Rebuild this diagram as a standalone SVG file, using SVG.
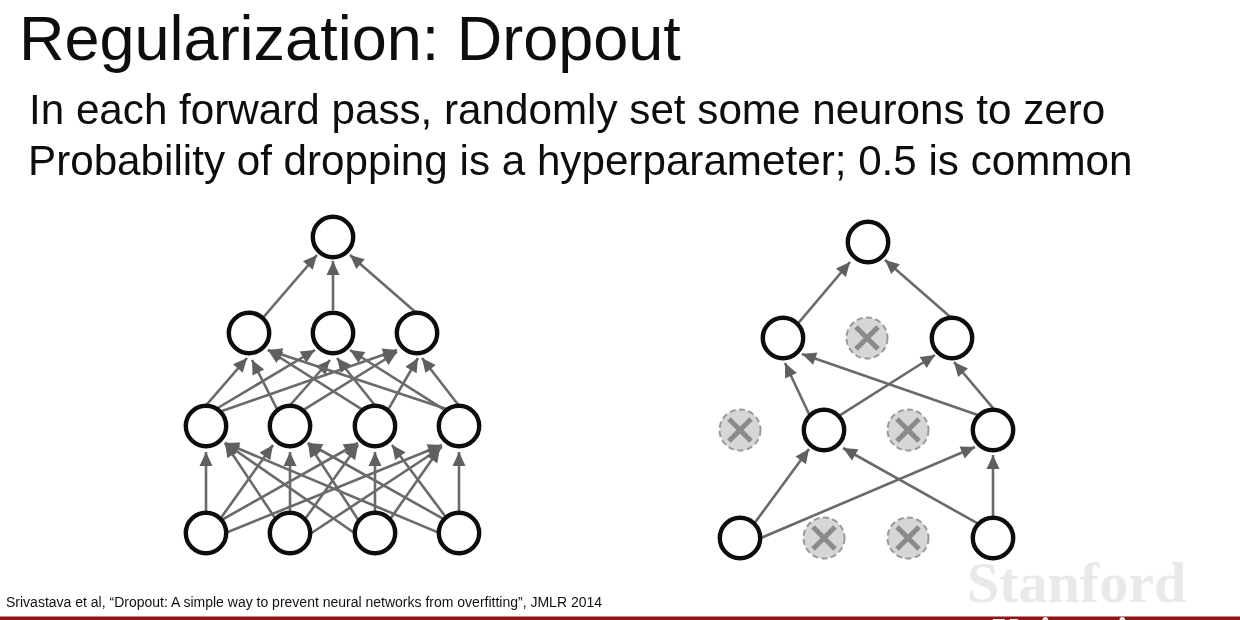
<svg xmlns="http://www.w3.org/2000/svg" width="1240" height="620" viewBox="0 0 1240 620">
<style>
.t{font-family:"Liberation Sans",Arial,sans-serif;fill:#111}
.h{font-size:63px}
.b{font-size:42.2px}
.c{stroke:#6a6a6a;stroke-width:2.6;fill:none;marker-end:url(#a)}
.n{fill:#fff;stroke:#0a0a0a;stroke-width:4.4}
.d{fill:#d6d6d6;stroke:#999;stroke-width:2;stroke-dasharray:6 3.5}
.x{stroke:#8a8a8a;stroke-width:5;fill:none}
.s{font-family:"Liberation Serif",serif;font-weight:bold;fill:#e9e9e9}
</style>
<defs>
<marker id="a" markerUnits="userSpaceOnUse" markerWidth="20" markerHeight="20" refX="0" refY="0" orient="auto" viewBox="-20 -10 20 20"><path d="M0 0L-14 -6.5L-14 6.5Z" fill="#5f5f5f"/></marker>
<path id="k" d="M-11 -11L11 11M11 -11L-11 11"/>
<filter id="b" x="0" y="0" width="100%" height="100%" filterUnits="objectBoundingBox"><feGaussianBlur stdDeviation="0.55"/></filter>
</defs>
<rect width="1240" height="620" fill="#fff"/>
<g filter="url(#b)">
<rect width="1240" height="620" fill="#fff"/>
<text class="t h" x="19" y="60">Regularization: Dropout</text>
<text class="t b" x="29" y="124">In each forward pass, randomly set some neurons to zero</text>
<text class="t b" x="28" y="175">Probability of dropping is a hyperparameter; 0.5 is common</text>
<g id="connectors">
<line class="c" x1="260.5" y1="320.6" x2="317" y2="255"/><line class="c" x1="333" y1="310" x2="333" y2="261"/><line class="c" x1="420.5" y1="316.6" x2="350" y2="255"/>
<line class="c" x1="201.5" y1="410.6" x2="247" y2="358"/><line class="c" x1="214.4" y1="410" x2="315" y2="350"/><line class="c" x1="215.6" y1="413.3" x2="397" y2="350"/>
<line class="c" x1="279.5" y1="414" x2="252" y2="360"/><line class="c" x1="285.4" y1="410.5" x2="330" y2="360"/><line class="c" x1="299.5" y1="412.3" x2="397" y2="352"/>
<line class="c" x1="363.5" y1="410.3" x2="268" y2="350"/><line class="c" x1="379.3" y1="410.8" x2="337" y2="358"/><line class="c" x1="387" y1="411.6" x2="418" y2="358"/>
<line class="c" x1="449.5" y1="410" x2="268" y2="350"/><line class="c" x1="448.5" y1="412.4" x2="350" y2="350"/><line class="c" x1="463" y1="411" x2="422" y2="358"/>
<line class="c" x1="206" y1="520" x2="206" y2="452"/><line class="c" x1="217.2" y1="523.1" x2="273" y2="445"/><line class="c" x1="216.3" y1="523" x2="358" y2="443"/><line class="c" x1="218.7" y1="535.8" x2="442" y2="445"/>
<line class="c" x1="278.5" y1="523.3" x2="225" y2="443"/><line class="c" x1="290" y1="520" x2="290" y2="452"/><line class="c" x1="302.2" y1="523.1" x2="358" y2="445"/><line class="c" x1="304.7" y1="537.5" x2="442" y2="447"/>
<line class="c" x1="361.2" y1="537.7" x2="225" y2="443"/><line class="c" x1="360.5" y1="523.4" x2="308" y2="443"/><line class="c" x1="375" y1="520" x2="375" y2="452"/><line class="c" x1="387.3" y1="523.2" x2="440" y2="448"/>
<line class="c" x1="446.2" y1="535.9" x2="225" y2="443"/><line class="c" x1="448.7" y1="521.9" x2="308" y2="443"/><line class="c" x1="448" y1="520" x2="392" y2="445"/><line class="c" x1="459" y1="520" x2="459" y2="452"/>
<line class="c" x1="794.5" y1="327.6" x2="850" y2="262"/><line class="c" x1="955.5" y1="321.6" x2="885" y2="260"/>
<line class="c" x1="812.3" y1="421" x2="785" y2="363"/><line class="c" x1="833.5" y1="419.4" x2="935" y2="355"/>
<line class="c" x1="981.4" y1="416.3" x2="802" y2="354"/><line class="c" x1="998.5" y1="414.6" x2="954" y2="362"/>
<line class="c" x1="751" y1="528" x2="809" y2="449"/><line class="c" x1="753.8" y1="541" x2="975" y2="447"/>
<line class="c" x1="985.7" y1="527.9" x2="843" y2="448"/><line class="c" x1="993" y1="525" x2="993" y2="455"/>
</g>
<g id="l-out"><circle class="n" cx="333" cy="237" r="20.2"/></g>
<g id="l-h1"><circle class="n" cx="249" cy="333" r="20.2"/></g>
<g id="l-h2"><circle class="n" cx="333" cy="333" r="20.2"/></g>
<g id="l-h3"><circle class="n" cx="417" cy="333" r="20.2"/></g>
<g id="l-m1"><circle class="n" cx="206" cy="426" r="20.2"/></g>
<g id="l-m2"><circle class="n" cx="290" cy="426" r="20.2"/></g>
<g id="l-m3"><circle class="n" cx="375" cy="426" r="20.2"/></g>
<g id="l-m4"><circle class="n" cx="459" cy="426" r="20.2"/></g>
<g id="l-i1"><circle class="n" cx="206" cy="533" r="20.2"/></g>
<g id="l-i2"><circle class="n" cx="290" cy="533" r="20.2"/></g>
<g id="l-i3"><circle class="n" cx="375" cy="533" r="20.2"/></g>
<g id="l-i4"><circle class="n" cx="459" cy="533" r="20.2"/></g>
<g id="r-out"><circle class="n" cx="868" cy="242" r="20.2"/></g>
<g id="r-h1"><circle class="n" cx="783" cy="338" r="20.2"/></g>
<g id="r-h2" transform="translate(867 338)"><circle class="d" r="20.5"/><use href="#k" class="x"/></g>
<g id="r-h3"><circle class="n" cx="952" cy="338" r="20.2"/></g>
<g id="r-m1" transform="translate(740 430)"><circle class="d" r="20.5"/><use href="#k" class="x"/></g>
<g id="r-m2"><circle class="n" cx="824" cy="430" r="20.2"/></g>
<g id="r-m3" transform="translate(908 430)"><circle class="d" r="20.5"/><use href="#k" class="x"/></g>
<g id="r-m4"><circle class="n" cx="993" cy="430" r="20.2"/></g>
<g id="r-i1"><circle class="n" cx="740" cy="538" r="20.2"/></g>
<g id="r-i2" transform="translate(824 538)"><circle class="d" r="20.5"/><use href="#k" class="x"/></g>
<g id="r-i3" transform="translate(908 538)"><circle class="d" r="20.5"/><use href="#k" class="x"/></g>
<g id="r-i4"><circle class="n" cx="993" cy="538" r="20.2"/></g>
<text class="t" x="6" y="607" font-size="14">Srivastava et al, “Dropout: A simple way to prevent neural networks from overfitting”, JMLR 2014</text>
<text class="s" x="967" y="602" font-size="58">Stanford</text>
<rect y="616.5" width="1240" height="3.5" fill="#8c1515"/>
<text class="s" x="992" y="644" font-size="37.5">University</text>
</g>
</svg>
